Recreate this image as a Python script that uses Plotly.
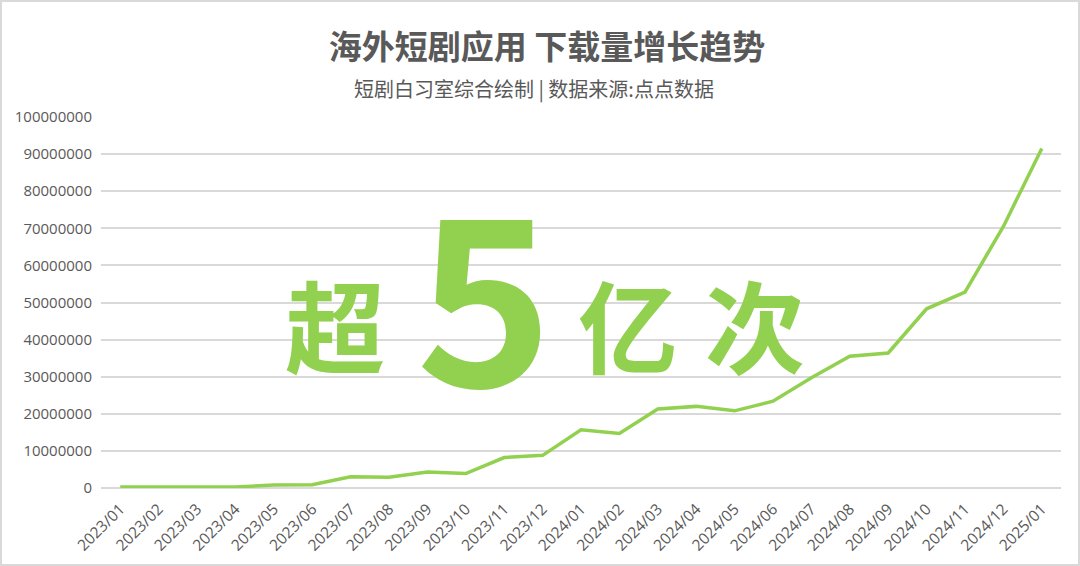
import plotly.graph_objects as go

# Monthly downloads of overseas short-drama apps
months = ["2023/01", "2023/02", "2023/03", "2023/04", "2023/05", "2023/06",
          "2023/07", "2023/08", "2023/09", "2023/10", "2023/11", "2023/12",
          "2024/01", "2024/02", "2024/03", "2024/04", "2024/05", "2024/06",
          "2024/07", "2024/08", "2024/09", "2024/10", "2024/11", "2024/12",
          "2025/01"]
downloads = [300000, 300000, 400000, 300000, 800000, 900000,
             3000000, 2900000, 4300000, 3900000, 8200000, 8800000,
             15700000, 14700000, 21300000, 22000000, 20800000, 23400000,
             29700000, 35500000, 36400000, 48300000, 52800000, 70500000,
             91500000]

y_ticks = list(range(0, 100000001, 10000000))

GREEN = "#92D050"
GREY = "#595959"

fig = go.Figure()
fig.add_trace(go.Scatter(
    x=months, y=downloads, mode="lines",
    line=dict(color=GREEN, width=3.5),
    hoverinfo="x+y", showlegend=False,
))

fig.update_layout(
    width=1080, height=566,
    margin=dict(l=101, r=19, t=117, b=78),
    paper_bgcolor="white", plot_bgcolor="white",
    font=dict(family="Noto Sans CJK SC, sans-serif", color=GREY),
    title=dict(text="<b>海外短剧应用 下载量增长趋势</b>", x=547 / 1080, xanchor="center",
               y=1 - 47 / 566, yanchor="middle",
               font=dict(size=33, color=GREY)),
)

fig.update_xaxes(
    type="category", range=[-0.5, len(months) - 0.5], automargin=False,
    showgrid=False, showline=False, zeroline=False,
    ticks="", tickangle=-45, ticklabelstandoff=8,
    tickfont=dict(family="Open Sans, sans-serif", size=15.5, color=GREY),
)
fig.update_yaxes(
    range=[0, 100000000], tickvals=y_ticks, automargin=False,
    ticktext=[str(v) for v in y_ticks],
    showgrid=True, gridcolor="#D9D9D9", gridwidth=1.5,
    zeroline=True, zerolinecolor="#D9D9D9", zerolinewidth=1.5,
    ticks="", ticklabelstandoff=8,
    tickfont=dict(family="Open Sans, sans-serif", size=15, color=GREY),
)

# subtitle
fig.add_annotation(text="短剧白习室综合绘制 | 数据来源:点点数据",
                   xref="paper", yref="paper", x=(534 - 101) / 960, y=(488 - 88) / 371,
                   xanchor="center", yanchor="middle",
                   showarrow=False, font=dict(size=20, color=GREY))

# big callout text
big = [("超", 335, 322, 100), ("5", 484, 286, 232), ("亿", 628, 322, 100), ("次", 755, 322, 100)]
for txt, px_x, px_y, size in big:
    fig.add_annotation(text=f"<b>{txt}</b>", xref="paper", yref="paper",
                       x=(px_x - 101) / 960, y=(488 - px_y) / 371,
                       xanchor="center", yanchor="middle",
                       showarrow=False,
                       font=dict(size=size, color=GREEN,
                                 family="Noto Sans CJK SC, Open Sans, sans-serif"))

# outer frame
fig.add_shape(type="rect", xref="paper", yref="paper",
              x0=-100 / 960, x1=1 + 18 / 960, y0=-77 / 371, y1=1 + 116 / 371,
              line=dict(color="#D9D9D9", width=2), layer="below")

fig.write_html("out.html", config={"displayModeBar": False},
               post_script="document.body.style.margin='0';")
